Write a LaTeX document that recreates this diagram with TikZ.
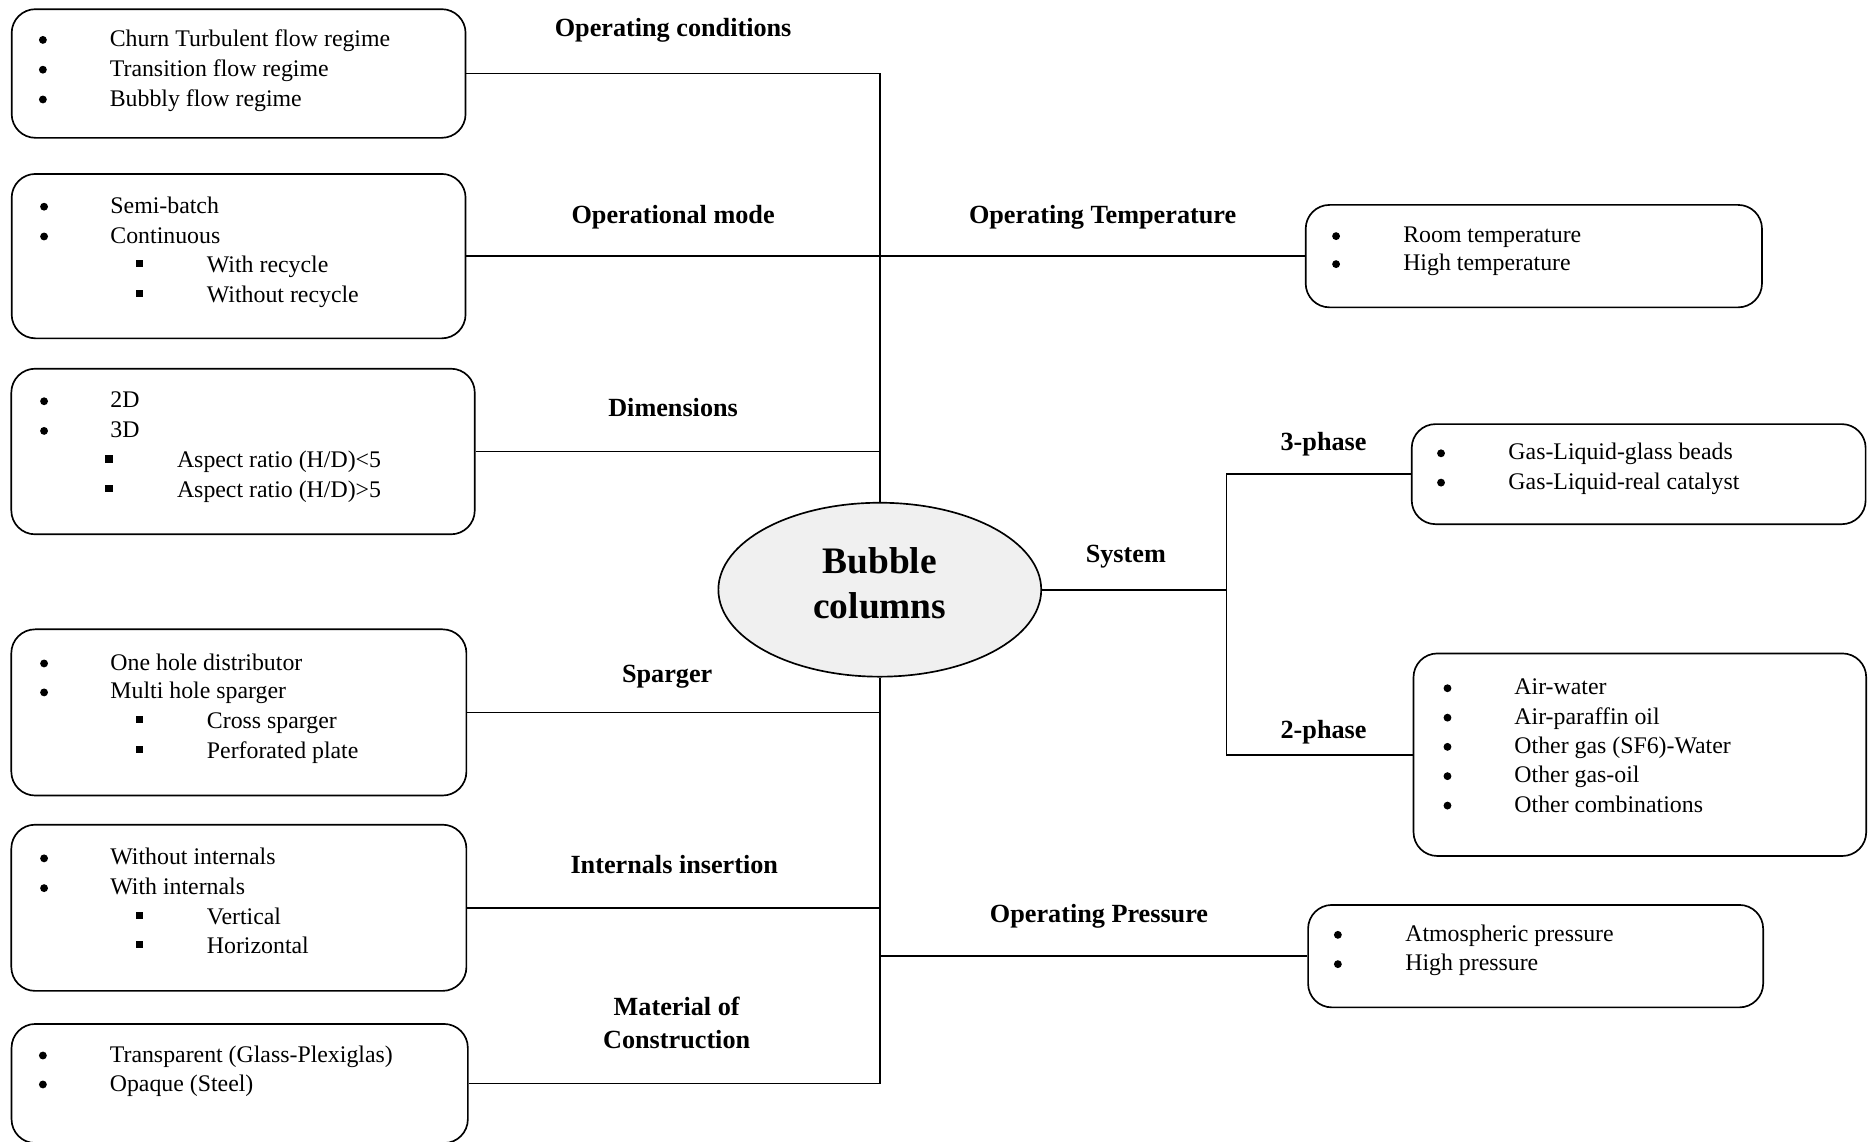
\documentclass[tikz,border=0pt]{standalone}
\usepackage{fontspec}
\setmainfont{Liberation Serif}
\usetikzlibrary{shapes.geometric}
\definecolor{ellfill}{RGB}{240,240,240}
\newcounter{ln}
% bullet item: bullet x, text x, baseline y, text
\newcommand\bitem[4]{%
  \stepcounter{ln}%
  \node[dot] (d\arabic{ln}) at (#1,#3-5.5) {};
  \node[item] (t\arabic{ln}) at (#2,#3) {#4};}
% square sub-item: square x, text x, baseline y, text
\newcommand\sitem[4]{%
  \stepcounter{ln}%
  \node[sq] (d\arabic{ln}) at (#1,#3-7.5) {};
  \node[item] (t\arabic{ln}) at (#2,#3) {#4};}
\begin{document}
\begin{tikzpicture}[x=1pt,y=-1pt,
  box/.style={draw, line width=1.4pt, rounded corners=20pt, inner sep=0pt},
  wire/.style={line width=1.4pt},
  item/.style={anchor=base west, inner sep=0pt, font=\fontsize{20}{24}\selectfont},
  dot/.style={circle, fill, inner sep=0pt, minimum size=6.6pt},
  sq/.style={rectangle, fill, inner sep=0pt, minimum size=6pt},
  lbl/.style={anchor=base, inner sep=0pt, font=\fontsize{22}{27}\selectfont\bfseries},
  ttl/.style={anchor=base, inner sep=0pt, font=\fontsize{31.4}{39}\selectfont\bfseries},
]
\useasboundingbox (0,0) rectangle (1568,958);

% central ellipse
\node[ellipse, draw, line width=1.4pt, fill=ellfill, inner sep=0pt,
      minimum width=271pt, minimum height=146pt] (ell) at (738.5,495) {};
\node[ttl] (ttl1) at (738.5,481.3) {Bubble};
\node[ttl] (ttl2) at (738.5,519) {columns};

% left boxes
\node[box, minimum width=381pt, minimum height=108pt] (b1) at (200.3,61.7) {};
\node[box, minimum width=381pt, minimum height=138pt] (b2) at (200.3,215) {};
\node[box, minimum width=389pt, minimum height=139pt] (b3) at (204,379) {};
\node[box, minimum width=382pt, minimum height=139.5pt] (b4) at (200.5,598) {};
\node[box, minimum width=382pt, minimum height=139.5pt] (b5) at (200.5,762) {};
\node[box, minimum width=383pt, minimum height=100pt] (b6) at (201.2,909.5) {};

% right boxes
\node[box, minimum width=383pt, minimum height=86pt] (tb) at (1287.5,215) {};
\node[box, minimum width=381pt, minimum height=84pt] (p3) at (1375.5,398) {};
\node[box, minimum width=380pt, minimum height=170pt] (p2) at (1376.5,633.5) {};
\node[box, minimum width=382pt, minimum height=86pt] (pb) at (1289,802.6) {};

% connectors to the trunk
\draw[wire] (b1.east) -| (ell.north);
\draw[wire] (b2.east) -- (tb.west);
\draw[wire] (b3.east) -- (b3.east -| ell.north);
\draw[wire] (b6.east) -| (ell.south);
\draw[wire] (b4.east) -- (b4.east -| ell.south);
\draw[wire] (b5.east) -- (b5.east -| ell.south);
\draw[wire] (pb.west -| ell.south) -- (pb.west);

% system branch
\coordinate (sys) at (1029.5,495);
\draw[wire] (ell.east) -- (sys);
\draw[wire] (p3.west) -| (sys) |- (p2.west);

% branch labels
\node[lbl] (l1) at (565,31) {Operating conditions};
\node[lbl] (l2) at (565,187.5) {Operational mode};
\node[lbl] (l3) at (565,349.3) {Dimensions};
\node[lbl] (l4) at (560,572.6) {Sparger};
\node[lbl] (l5) at (566,733) {Internals insertion};
\node[lbl] (l6a) at (568,852) {Material of};
\node[lbl] (l6b) at (568,880) {Construction};
\node[lbl] (l7) at (925.5,188) {Operating Temperature};
\node[lbl] (l8) at (945,472.3) {System};
\node[lbl] (l9) at (1111,378.3) {3-phase};
\node[lbl] (l10) at (1111,620.3) {2-phase};
\node[lbl] (l11) at (922.5,774.3) {Operating Pressure};

% box contents
\bitem{36}{92}{39}{Churn Turbulent flow regime}
\bitem{36}{92}{64}{Transition flow regime}
\bitem{36}{92}{89}{Bubbly flow regime}

\bitem{37}{92.5}{179}{Semi-batch}
\bitem{37}{92.5}{204}{Continuous}
\sitem{117}{173.5}{229}{With recycle}
\sitem{117}{173.5}{254}{Without recycle}

\bitem{37}{92.5}{342.3}{2D}
\bitem{37}{92.5}{367.2}{3D}
\sitem{91.5}{148.4}{392.8}{Aspect ratio (H/D)<5}
\sitem{91.5}{148.4}{417.3}{Aspect ratio (H/D)>5}

\bitem{37}{92.5}{562.4}{One hole distributor}
\bitem{37}{92.5}{586.7}{Multi hole sparger}
\sitem{117}{173.5}{611.6}{Cross sparger}
\sitem{117}{173.5}{636.3}{Perforated plate}

\bitem{37}{92.5}{726}{Without internals}
\bitem{37}{92.5}{751}{With internals}
\sitem{117}{173.5}{775.7}{Vertical}
\sitem{117}{173.5}{800.4}{Horizontal}

\bitem{36}{92}{891.5}{Transparent (Glass-Plexiglas)}
\bitem{36}{92}{915.8}{Opaque (Steel)}

\bitem{1121.5}{1177.7}{203.7}{Room temperature}
\bitem{1121.5}{1177.7}{227.2}{High temperature}

\bitem{1209.6}{1266}{386}{Gas-Liquid-glass beads}
\bitem{1209.6}{1266}{410.6}{Gas-Liquid-real catalyst}

\bitem{1215}{1271}{583.2}{Air-water}
\bitem{1215}{1271}{607.9}{Air-paraffin oil}
\bitem{1215}{1271}{632.4}{Other gas (SF6)-Water}
\bitem{1215}{1271}{657}{Other gas-oil}
\bitem{1215}{1271}{681.7}{Other combinations}

\bitem{1123}{1179.4}{790.2}{Atmospheric pressure}
\bitem{1123}{1179.4}{814.8}{High pressure}
\end{tikzpicture}
\end{document}
